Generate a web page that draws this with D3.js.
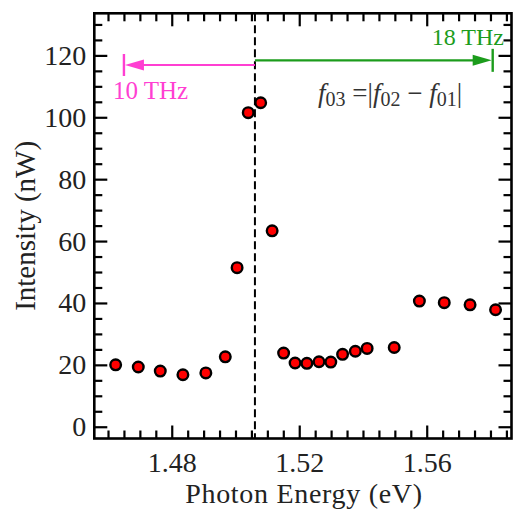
<!DOCTYPE html>
<html><head><meta charset="utf-8">
<script src="https://cdn.jsdelivr.net/npm/d3@7/dist/d3.min.js"></script>
<style>body{margin:0;background:#fff}svg{display:block}</style>
</head><body>
<script>
const energy = [1.4624,1.4695,1.4764,1.4835,1.4907,1.4968,1.5005,1.5040,1.5079,1.5115,1.5151,1.5187,1.5224,1.5262,1.5299,1.5336,1.5376,1.5413,1.5498,1.5577,1.5655,1.5736,1.5816];
const intensity = [20.0,19.3,18.0,16.8,17.4,22.6,51.4,101.5,104.7,63.3,23.8,20.6,20.5,21.0,20.9,23.4,24.4,25.3,25.6,40.6,40.1,39.4,37.8];
const xTicks = [1.48,1.52,1.56];
const yTicks = [0,20,40,60,80,100,120];
const xDomain = [1.4557,1.5866];
const yDomain = [-3.8,133.6];
const dashedX = 1.5061;
const pinkArrow = {from:1.5061,to:1.4650,y:116.9,label:"10 THz"};
const greenArrow = {from:1.5061,to:1.5807,y:118.4,label:"18 THz"};

const W=514,H=511;
const m={left:94.3,right:511.5,top:13.3,bottom:438.5};
const svg=d3.select("body").append("svg").attr("width",W).attr("height",H);
const x=d3.scaleLinear().domain(xDomain).range([m.left,m.right]);
const y=d3.scaleLinear().domain(yDomain).range([m.bottom,m.top]);
const font="'Liberation Serif','Times New Roman',serif";
const txt="#222";

const xMinor=d3.range(1.46,1.5851,0.005).map(v=>+v.toFixed(3)).filter(v=>!xTicks.some(t=>Math.abs(t-v)<1e-6));
const yMinor=d3.range(0,134,5).filter(v=>v%20!==0);

function styleAxis(g){g.select(".domain").remove();g.selectAll("line").attr("stroke","#000").attr("stroke-width",2.2);
 g.selectAll("text").attr("font-family",font).attr("font-size",28).attr("fill",txt);}

// bottom
svg.append("g").attr("transform",`translate(0,${m.bottom})`).call(d3.axisBottom(x).tickValues(xTicks).tickSize(-13).tickPadding(14).tickFormat(d3.format(".2f"))).call(styleAxis);
svg.append("g").attr("transform",`translate(0,${m.bottom})`).call(d3.axisBottom(x).tickValues(xMinor).tickSize(-8).tickFormat("")).call(styleAxis);
// top
svg.append("g").attr("transform",`translate(0,${m.top})`).call(d3.axisTop(x).tickValues(xTicks).tickSize(-13).tickFormat("")).call(styleAxis);
svg.append("g").attr("transform",`translate(0,${m.top})`).call(d3.axisTop(x).tickValues(xMinor).tickSize(-8).tickFormat("")).call(styleAxis);
// left
svg.append("g").attr("transform",`translate(${m.left},0)`).call(d3.axisLeft(y).tickValues(yTicks).tickSize(-13).tickPadding(8)).call(styleAxis);
svg.append("g").attr("transform",`translate(${m.left},0)`).call(d3.axisLeft(y).tickValues(yMinor).tickSize(-8).tickFormat("")).call(styleAxis);
// right
svg.append("g").attr("transform",`translate(${m.right},0)`).call(d3.axisRight(y).tickValues(yTicks).tickSize(-13).tickFormat("")).call(styleAxis);
svg.append("g").attr("transform",`translate(${m.right},0)`).call(d3.axisRight(y).tickValues(yMinor).tickSize(-8).tickFormat("")).call(styleAxis);

// frame
svg.append("rect").attr("x",m.left).attr("y",m.top).attr("width",m.right-m.left).attr("height",m.bottom-m.top)
 .attr("fill","none").attr("stroke","#000").attr("stroke-width",2.6);

// dashed line
svg.append("line").attr("x1",x(dashedX)).attr("x2",x(dashedX)).attr("y1",m.top).attr("y2",m.bottom)
 .attr("stroke","#000").attr("stroke-width",2).attr("stroke-dasharray","8,4");

// arrows
function arrow(a,color,barHalf){
 const yy=y(a.y), x0=x(a.from), x1=x(a.to), dir=Math.sign(x1-x0);
 svg.append("line").attr("x1",x0).attr("x2",x1-dir*16).attr("y1",yy).attr("y2",yy).attr("stroke",color).attr("stroke-width",2.2);
 svg.append("path").attr("d",`M${x1-dir*1},${yy}L${x1-dir*20},${yy-5.5}L${x1-dir*20},${yy+5.5}Z`).attr("fill",color);
 svg.append("line").attr("x1",x1).attr("x2",x1).attr("y1",yy-barHalf).attr("y2",yy+barHalf).attr("stroke",color).attr("stroke-width",2.4);
}
arrow(pinkArrow,"#ff3fd2",11);
arrow(greenArrow,"#1c9c1c",11.5);

svg.append("text").attr("x",113).attr("y",98.5).attr("font-family",font).attr("font-size",25).attr("fill","#ff3fd2").text(pinkArrow.label);
svg.append("text").attr("x",504).attr("y",45).attr("text-anchor","end").attr("font-family",font).attr("font-size",24).attr("fill","#1c9c1c").text(greenArrow.label);

// formula label
const f=svg.append("text").attr("x",318).attr("y",102).attr("font-family",font).attr("font-size",27).attr("fill","#333");
f.append("tspan").attr("font-style","italic").text("f");
f.append("tspan").attr("font-size",20).attr("dy",4).text("03");
f.append("tspan").attr("dy",-4).text(" =|");
f.append("tspan").attr("font-style","italic").text("f");
f.append("tspan").attr("font-size",20).attr("dy",4).text("02");
f.append("tspan").attr("dy",-4).text(" \u2212 ");
f.append("tspan").attr("font-style","italic").text("f");
f.append("tspan").attr("font-size",20).attr("dy",4).text("01");
f.append("tspan").attr("dy",-4).text("|");

// points
svg.append("g").selectAll("circle").data(energy).join("circle")
 .attr("cx",d=>x(d)).attr("cy",(d,i)=>y(intensity[i])).attr("r",5.3)
 .attr("fill","#ff0000").attr("stroke","#000").attr("stroke-width",2.4);

// axis labels
svg.append("text").attr("x",304).attr("y",503).attr("text-anchor","middle").attr("letter-spacing",0.7)
 .attr("font-family",font).attr("font-size",28).attr("fill",txt).text("Photon Energy (eV)");
svg.append("text").attr("transform",`translate(35,${(m.top+m.bottom)/2}) rotate(-90)`).attr("text-anchor","middle")
 .attr("font-family",font).attr("font-size",29).attr("fill",txt).text("Intensity (nW)");
</script>
</body></html>
